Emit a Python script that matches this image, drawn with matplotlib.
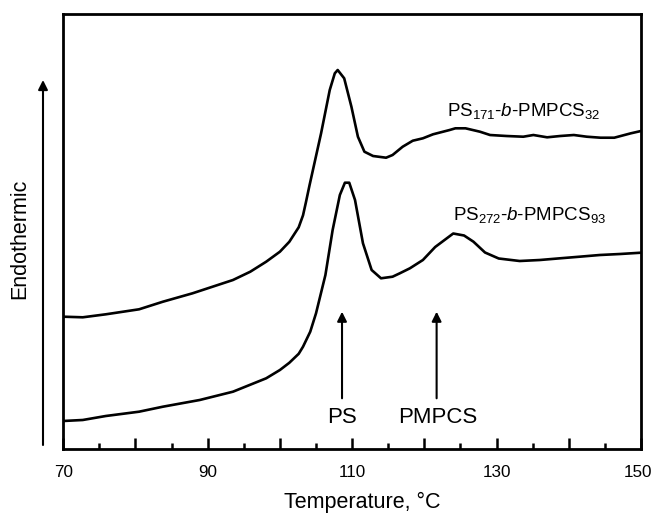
import matplotlib
matplotlib.use("Agg")
import matplotlib.pyplot as plt
import matplotlib.transforms as mtransforms
from matplotlib.ticker import MultipleLocator, FixedLocator

plt.rcParams['font.family'] = ['Liberation Sans', 'DejaVu Sans']
plt.rcParams['mathtext.fontset'] = 'custom'
plt.rcParams['mathtext.rm'] = 'Liberation Sans'
plt.rcParams['mathtext.it'] = 'Liberation Sans:italic'

# Upper curve: PS171-b-PMPCS32 (temperature, heat flow in arbitrary units)
temp_171 = [70, 72.7, 75.9, 80.5, 83.8, 87.9, 93.5, 95.9, 98.1, 100.0, 101.3, 102.6, 103.2,
            103.6, 104.1, 105.7, 106.9, 107.6, 108.0, 108.9, 109.9, 110.8, 111.7, 112.9, 114.7,
            115.6, 117.0, 118.4, 119.8, 121.2, 123.5, 124.3, 125.7, 127.7, 129.1, 131.4,
            133.7, 135.1, 137.0, 138.8, 140.7, 142.5, 144.4, 146.3, 148.6, 150]
heat_171 = [132.6, 132.0, 135.0, 140.0, 147.6, 156.0, 169.3, 177.6, 187.6, 197.6, 207.5, 222.0, 234.0,
            247.0, 264.0, 316.0, 359.3, 376.0, 379.3, 371.0, 342.6, 312.6, 297.6, 293.3, 291.6,
            294.3, 302.6, 308.6, 311.0, 315.0, 319.3, 321.0, 321.0, 317.6, 314.3, 313.3,
            312.6, 314.3, 312.0, 313.3, 314.3, 312.6, 311.6, 311.6, 316.0, 318.3]

# Lower curve: PS272-b-PMPCS93
temp_272 = [70, 72.7, 75.9, 80.5, 83.8, 88.9, 93.5, 98.1, 100.0, 101.3, 102.6, 103.2, 104.2,
            105.0, 106.3, 107.3, 108.3, 109.0, 109.6, 110.4, 111.5, 112.7, 114.0, 115.6,
            116.6, 118.0, 119.8, 121.5, 124.0, 125.5, 126.8, 128.4, 130.3, 133.2, 136.0,
            138.8, 141.5, 144.3, 147.1, 150]
heat_272 = [28.3, 29.3, 33.3, 37.6, 42.6, 49.3, 57.6, 71.0, 79.3, 86.5, 95.5, 102.6, 117.6,
            136.0, 174.3, 219.3, 254.3, 266.6, 266.6, 249.3, 206.0, 179.3, 171.0, 172.6,
            176.0, 181.0, 189.3, 202.3, 215.8, 213.8, 207.6, 196.8, 190.8, 188.3, 189.3,
            191.0, 192.6, 194.3, 195.3, 196.6]

xticks_major = [70, 80, 90, 100, 110, 120, 130, 140, 150]
xtick_labels = ['70', '', '90', '', '110', '', '130', '', '150']

label_171 = r'PS$_{171}$-$\mathit{b}$-PMPCS$_{32}$'
label_272 = r'PS$_{272}$-$\mathit{b}$-PMPCS$_{93}$'

fig = plt.figure(figsize=(6.53, 5.14), dpi=100)
ax = fig.add_axes([0.0969, 0.1259, 0.8847, 0.8478])

ax.plot(temp_171, heat_171, color='black', lw=1.9, solid_joinstyle='round')
ax.plot(temp_272, heat_272, color='black', lw=1.9, solid_joinstyle='round')

ax.set_xlim(70, 150)
ax.set_ylim(0, 435.8)

ax.xaxis.set_major_locator(FixedLocator(xticks_major))
ax.set_xticklabels(xtick_labels)
ax.xaxis.set_minor_locator(MultipleLocator(5))
ax.tick_params(axis='x', which='major', direction='in', length=8, width=1.8,
               labelsize=12.3, pad=11)
ax.tick_params(axis='x', which='minor', direction='in', length=4, width=1.8)
ax.set_yticks([])
for s in ax.spines.values():
    s.set_linewidth(2.0)

# keep the last tick label inside the figure edge
last = ax.get_xticklabels()[-1]
last.set_transform(last.get_transform() +
                   mtransforms.ScaledTranslation(-3 / 100, 0, fig.dpi_scale_trans))

fig.text(362 / 653, 1 - 508 / 514, 'Temperature, °C', fontsize=15.5,
         ha='center', va='baseline')

ax.text(123.2, 333.3, label_171, fontsize=13.5, va='baseline', ha='left')
ax.text(124.0, 229.3, label_272, fontsize=13.5, va='baseline', ha='left')

# PS and PMPCS markers
ax.annotate('', xy=(108.6, 137.6), xytext=(108.6, 51),
            arrowprops=dict(arrowstyle='-|>', color='black', lw=1.5,
                            mutation_scale=14, shrinkA=0, shrinkB=0))
ax.annotate('', xy=(121.7, 137.6), xytext=(121.7, 51),
            arrowprops=dict(arrowstyle='-|>', color='black', lw=1.5,
                            mutation_scale=14, shrinkA=0, shrinkB=0))
ax.text(108.6, 26.3, 'PS', fontsize=16, ha='center', va='baseline')
ax.text(121.8, 26.3, 'PMPCS', fontsize=16, ha='center', va='baseline')

# Endothermic arrow and label (figure coordinates)
fig.patches.append(matplotlib.patches.FancyArrowPatch(
    (43 / 653, 1 - 445 / 514), (43 / 653, 1 - 80 / 514),
    transform=fig.transFigure, arrowstyle='-|>', color='black', lw=1.5,
    mutation_scale=14, shrinkA=0, shrinkB=0))
fig.text(20 / 653, 1 - 239 / 514, 'Endothermic', rotation=90, fontsize=15.5,
         ha='center', va='center')

fig.savefig('out.png', dpi=100)
